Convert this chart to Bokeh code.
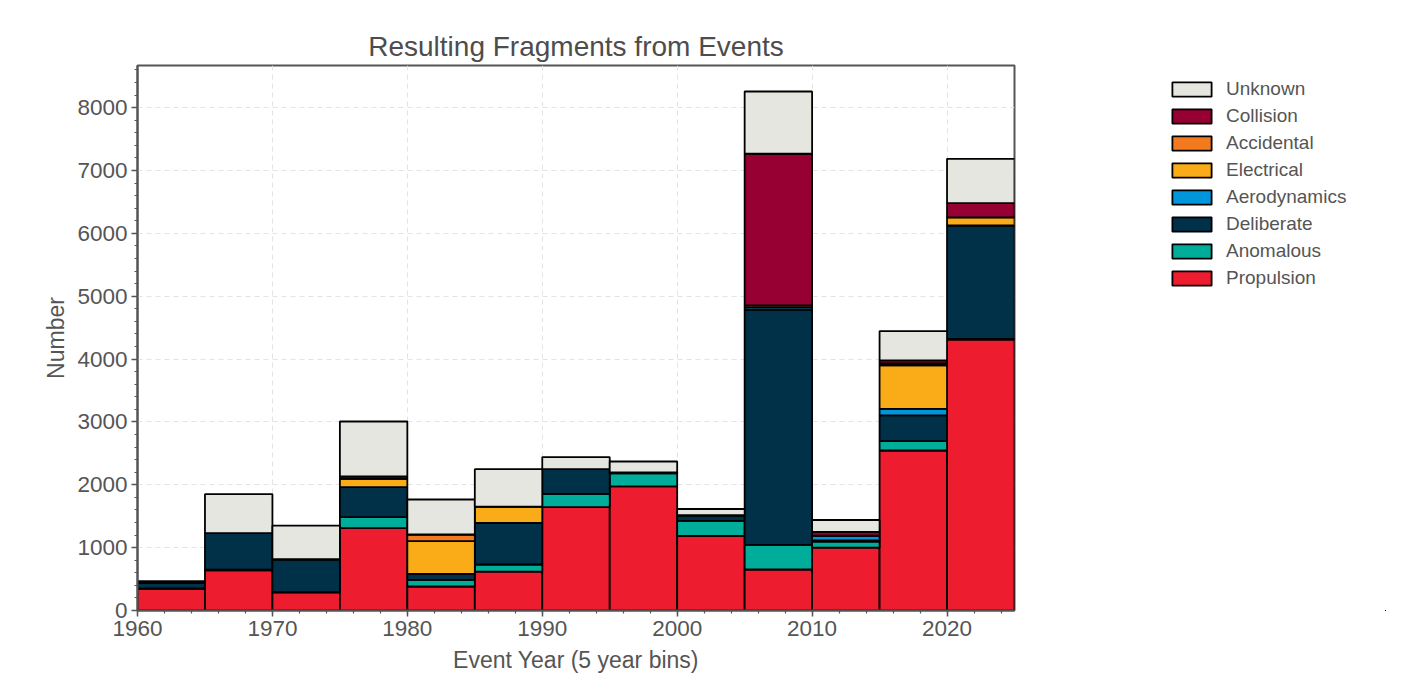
from bokeh.plotting import figure
from bokeh.layouts import row
from bokeh.models import (ColumnDataSource, Legend, LegendItem, SingleIntervalTicker, Range1d)
from bokeh.embed import file_html
from bokeh.resources import INLINE

# ---- data ----
bin_starts = [1960, 1965, 1970, 1975, 1980, 1985, 1990, 1995, 2000, 2005, 2010, 2015, 2020]
bin_width = 5

categories = ["Propulsion", "Anomalous", "Deliberate", "Aerodynamics",
              "Electrical", "Accidental", "Collision", "Unknown"]

propulsion   = [345, 640, 290, 1310, 382, 620, 1645, 1975, 1185, 652, 1000, 2545, 4310]
anomalous    = [5, 10, 0, 175, 106, 112, 210, 205, 240, 393, 95, 150, 10]
deliberate   = [90, 580, 525, 477, 96, 663, 395, 15, 90, 3738, 20, 408, 1805]
aerodynamics = [0, 0, 0, 0, 0, 0, 0, 0, 0, 40, 75, 106, 0]
electrical   = [0, 0, 0, 133, 519, 259, 0, 0, 0, 0, 0, 690, 130]
accidental   = [0, 0, 0, 37, 106, 0, 0, 0, 0, 30, 0, 30, 0]
collision    = [0, 0, 0, 0, 0, 0, 0, 0, 0, 2413, 60, 50, 225]
unknown      = [25, 620, 535, 875, 557, 594, 190, 175, 100, 990, 190, 465, 705]

colors = ["#ED1C2E", "#00AD9A", "#003149", "#0096DB",
          "#FAAB18", "#F47A20", "#970033", "#E6E6E1"]

series = [propulsion, anomalous, deliberate, aerodynamics,
          electrical, accidental, collision, unknown]

data = {"x": [b + bin_width / 2 for b in bin_starts]}
for name, vals in zip(categories, series):
    data[name] = vals
source = ColumnDataSource(data)

FONT = "Liberation Sans"
TXT = "#555555"

# ---- main chart ----
p = figure(width=1024, height=678,
           x_range=Range1d(1960, 2025), y_range=Range1d(0, 8670),
           output_backend="svg", toolbar_location=None,
           title="Resulting Fragments from Events",
           min_border_left=137, min_border_right=10,
           min_border_top=65, min_border_bottom=68)

renderers = p.vbar_stack(categories, x="x", width=bin_width, source=source,
                         fill_color=colors, line_color="black", line_width=1.8)

p.title.align = "center"
p.title.text_font = FONT
p.title.text_font_size = "28px"
p.title.text_font_style = "normal"
p.title.text_color = "#4d4d4d"
p.title.standoff = 8

p.xaxis.ticker = SingleIntervalTicker(interval=10, num_minor_ticks=5)
p.yaxis.ticker = SingleIntervalTicker(interval=1000, num_minor_ticks=5)
p.xaxis.axis_label = "Event Year (5 year bins)"
p.yaxis.axis_label = "Number"
for ax in (p.xaxis, p.yaxis):
    ax.axis_line_color = TXT
    ax.axis_line_width = 2
    ax.major_tick_line_color = TXT
    ax.major_tick_line_width = 1.5
    ax.minor_tick_line_color = TXT
    ax.minor_tick_line_width = 1.2
    ax.major_tick_out = 6
    ax.major_tick_in = 0
    ax.minor_tick_out = 3
    ax.minor_tick_in = 0
    ax.major_label_text_font = FONT
    ax.major_label_text_font_size = "22.5px"
    ax.major_label_text_color = TXT
    ax.axis_label_text_font = FONT
    ax.axis_label_text_font_size = "23px"
    ax.axis_label_text_font_style = "normal"
    ax.axis_label_text_color = TXT
    ax.major_label_standoff = 4
p.xaxis.axis_label_standoff = 8
p.yaxis.axis_label_standoff = 5

for g in (p.xgrid, p.ygrid):
    g.grid_line_color = "#e3e3e3"
    g.grid_line_dash = "5 4"
    g.grid_line_width = 1

p.outline_line_color = TXT
p.outline_line_width = 2

# ---- legend panel (same stacked series, kept outside its own view) ----
lg = figure(width=362, height=678, x_range=Range1d(1700, 1800), y_range=Range1d(20000, 30000),
            output_backend="svg", toolbar_location=None,
            x_axis_location=None, y_axis_location=None, min_border=0)
lg.grid.visible = False
lg.outline_line_color = None
lg.border_fill_color = "white"
lg.background_fill_color = "white"
lg_renderers = lg.vbar_stack(categories, x="x", width=bin_width, source=source,
                             fill_color=colors, line_color="black", line_width=1.8)

items = [LegendItem(label=name, renderers=[r])
         for name, r in reversed(list(zip(categories, lg_renderers)))]
legend = Legend(items=items, location=(143, 321),
                glyph_width=49, glyph_height=18, label_height=15,
                spacing=5, padding=0, margin=0, label_standoff=10,
                label_text_font=FONT, label_text_font_size="19px",
                label_text_color=TXT, border_line_color=None,
                background_fill_alpha=0)
lg.add_layout(legend, "center")

layout = row(p, lg)
open("out.html", "w").write(file_html(layout, INLINE))
